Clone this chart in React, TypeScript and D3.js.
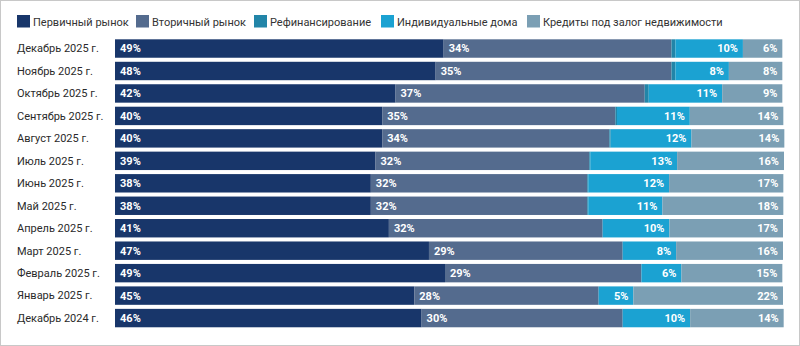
import React from "react";
import * as d3 from "d3";

const categories = [
  "Декабрь 2025 г.", "Ноябрь 2025 г.", "Октябрь 2025 г.", "Сентябрь 2025 г.",
  "Август 2025 г.", "Июль 2025 г.", "Июнь 2025 г.", "Май 2025 г.",
  "Апрель 2025 г.", "Март 2025 г.", "Февраль 2025 г.", "Январь 2025 г.", "Декабрь 2024 г.",
];
const seriesNames = [
  "Первичный рынок", "Вторичный рынок", "Рефинансирование",
  "Индивидуальные дома", "Кредиты под залог недвижимости",
];
const primary = [49.2, 48.0, 42.0, 40.0, 40.0, 39.0, 38.3, 38.3, 41.0, 47.0, 49.4, 44.8, 45.9];
const secondary = [34.1, 35.3, 37.3, 34.9, 34.0, 32.0, 32.4, 32.4, 32.0, 29.0, 29.4, 27.6, 30.1];
const refinancing = [0.6, 0.6, 0.6, 0.25, 0.2, 0.15, 0.15, 0.15, 0, 0, 0, 0, 0];
const individual = [10.1, 8.0, 11.0, 10.9, 12.1, 13.0, 12.1, 11.1, 10.0, 8.0, 6.0, 5.2, 10.1];
const collateral = [5.9, 8.0, 9.0, 14.0, 13.9, 16.0, 17.1, 18.1, 17.0, 16.0, 15.1, 22.4, 14.0];

const colors = ["#18366a", "#546b8e", "#2285a8", "#1ba2d2", "#7b9fb4"];
// label placement per series: "start" (left), "end" (right), or null
const labelAlign: (string | null)[] = ["start", "start", null, "end", "end"];
const legendX = [17, 136, 254, 381, 527];

const W = 800, H = 346;

export default function App() {
  const keys = ["p", "s", "r", "i", "c"];
  const rows = categories.map((cat, k) => ({
    cat, p: primary[k], s: secondary[k], r: refinancing[k], i: individual[k], c: collateral[k],
  }));
  const stack = d3.stack<any>().keys(keys);
  const layers = stack(rows);

  const x = d3.scaleLinear().domain([0, 100]).range([115, 783]);
  const y = d3.scaleBand<string>().domain(categories).range([37.3, 329.3]).paddingInner(0.18).paddingOuter(0.09);
  const font = "Roboto, 'Open Sans', Arial, sans-serif";

  return (
    <svg width={W} height={H} style={{ position: "absolute", left: 0, top: 0, background: "#fff" }} fontFamily={font}>
      <rect x={0.5} y={0.5} width={W - 1} height={H - 1} fill="#fff" stroke="#c8c8c8" />
      {seriesNames.map((n, j) => (
        <g key={n} transform={`translate(${legendX[j]},15)`}>
          <rect width={13} height={12.5} fill={colors[j]} />
          <text x={16} y={10.5} fontSize={11} fill="#333">{n}</text>
        </g>
      ))}
      {categories.map((c) => (
        <text key={c} x={17} y={(y(c) as number) + y.bandwidth() / 2} dy="0.35em" fontSize={11} fill="#2a2a2a">{c}</text>
      ))}
      {layers.map((layer, j) => (
        <g key={keys[j]}>
          {layer.map((d, k) => {
            const x0 = x(d[0]), x1 = x(d[1]);
            const yy = y(categories[k]) as number;
            const v = d[1] - d[0];
            const al = labelAlign[j];
            return (
              <g key={k}>
                {v > 0 && <rect x={x0} y={yy} width={Math.max(0, x1 - x0)} height={y.bandwidth()} fill={colors[j]} />}
                {al && v > 0 && (
                  <text
                    x={al === "start" ? x0 + 5 : x1 - 5}
                    y={yy + y.bandwidth() / 2}
                    dy="0.36em"
                    textAnchor={al === "start" ? "start" : "end"}
                    fontSize={11}
                    fontWeight="bold"
                    fill="#fff"
                  >{Math.round(v)}%</text>
                )}
              </g>
            );
          })}
        </g>
      ))}
    </svg>
  );
}
